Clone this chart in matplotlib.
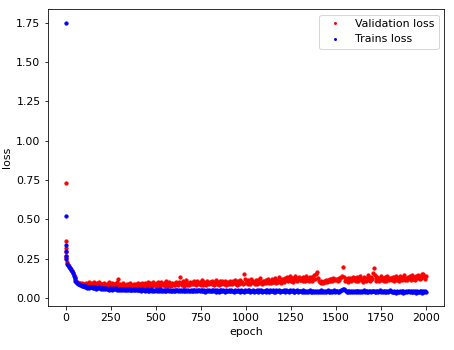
import matplotlib
matplotlib.use("Agg")
import matplotlib.pyplot as plt

plt.rcParams['font.size'] = 11

# epochs: first five individually, then every 5th epoch up to 2000
epochs = [0, 1, 2, 3, 4] + list(range(5, 2001, 5))

val_loss = [
    0.730, 0.363, 0.320, 0.290, 0.265,
    # 5 .. 100
    0.252, 0.226, 0.212, 0.203, 0.193, 0.184, 0.174, 0.162, 0.147, 0.131,
    0.119, 0.109, 0.103, 0.098, 0.095, 0.096, 0.092, 0.094, 0.090, 0.091,
    # 105 .. 200
    0.092, 0.081, 0.097, 0.086, 0.079, 0.101, 0.088, 0.083, 0.095, 0.078,
    0.091, 0.099, 0.084, 0.080, 0.094, 0.087, 0.103, 0.079, 0.090, 0.085,
    # 205 .. 300
    0.089, 0.076, 0.095, 0.082, 0.073, 0.092, 0.085, 0.099, 0.077, 0.088,
    0.080, 0.096, 0.074, 0.086, 0.091, 0.079, 0.101, 0.118, 0.084, 0.075,
    # 305 .. 400
    0.087, 0.074, 0.083, 0.094, 0.072, 0.085, 0.078, 0.092, 0.071, 0.088,
    0.080, 0.098, 0.075, 0.084, 0.073, 0.090, 0.070, 0.086, 0.077, 0.093,
    # 405 .. 500
    0.079, 0.091, 0.074, 0.087, 0.097, 0.073, 0.085, 0.093, 0.076, 0.089,
    0.104, 0.080, 0.072, 0.094, 0.086, 0.077, 0.099, 0.081, 0.090, 0.075,
    # 505 .. 600
    0.093, 0.079, 0.099, 0.084, 0.076, 0.102, 0.088, 0.081, 0.096, 0.078,
    0.108, 0.085, 0.092, 0.077, 0.100, 0.083, 0.074, 0.097, 0.089, 0.080,
    # 605 .. 700
    0.097, 0.083, 0.102, 0.088, 0.080, 0.099, 0.135, 0.093, 0.084, 0.106,
    0.090, 0.079, 0.098, 0.112, 0.085, 0.095, 0.081, 0.104, 0.089, 0.096,
    # 705 .. 800
    0.100, 0.086, 0.106, 0.091, 0.082, 0.110, 0.095, 0.087, 0.103, 0.084,
    0.097, 0.115, 0.085, 0.101, 0.092, 0.080, 0.108, 0.096, 0.088, 0.102,
    # 805 .. 900
    0.102, 0.089, 0.108, 0.093, 0.085, 0.104, 0.117, 0.090, 0.099, 0.084,
    0.107, 0.094, 0.087, 0.111, 0.098, 0.088, 0.105, 0.083, 0.101, 0.092,
    # 905 .. 1000
    0.104, 0.090, 0.111, 0.095, 0.087, 0.106, 0.097, 0.116, 0.091, 0.085,
    0.109, 0.099, 0.088, 0.113, 0.094, 0.103, 0.086, 0.155, 0.121, 0.097,
    # 1005 .. 1100
    0.106, 0.092, 0.112, 0.098, 0.089, 0.118, 0.101, 0.109, 0.094, 0.087,
    0.115, 0.103, 0.091, 0.113, 0.097, 0.124, 0.100, 0.090, 0.110, 0.096,
    # 1105 .. 1200
    0.108, 0.095, 0.117, 0.102, 0.123, 0.097, 0.111, 0.093, 0.120, 0.104,
    0.099, 0.127, 0.106, 0.094, 0.116, 0.101, 0.131, 0.109, 0.096, 0.118,
    # 1205 .. 1300
    0.110, 0.122, 0.102, 0.127, 0.113, 0.133, 0.105, 0.119, 0.138, 0.108,
    0.124, 0.101, 0.130, 0.115, 0.142, 0.118, 0.106, 0.128, 0.136, 0.114,
    # 1305 .. 1400
    0.117, 0.128, 0.108, 0.134, 0.120, 0.110, 0.140, 0.116, 0.129, 0.106,
    0.136, 0.121, 0.111, 0.131, 0.118, 0.145, 0.123, 0.150, 0.168, 0.127,
    # 1405 .. 1500
    0.110, 0.099, 0.106, 0.096, 0.104, 0.098, 0.109, 0.101, 0.112, 0.104,
    0.115, 0.106, 0.119, 0.109, 0.123, 0.111, 0.126, 0.113, 0.121, 0.116,
    # 1505 .. 1600
    0.120, 0.107, 0.128, 0.113, 0.124, 0.133, 0.142, 0.195, 0.131, 0.108,
    0.123, 0.112, 0.130, 0.104, 0.118, 0.127, 0.109, 0.122, 0.136, 0.115,
    # 1605 .. 1700
    0.125, 0.109, 0.132, 0.116, 0.106, 0.128, 0.139, 0.113, 0.121, 0.104,
    0.134, 0.118, 0.110, 0.130, 0.115, 0.143, 0.120, 0.108, 0.136, 0.123,
    # 1705 .. 1800
    0.160, 0.192, 0.148, 0.126, 0.110, 0.133, 0.119, 0.106, 0.129, 0.138,
    0.113, 0.124, 0.109, 0.131, 0.117, 0.107, 0.137, 0.121, 0.112, 0.128,
    # 1805 .. 1900
    0.129, 0.113, 0.135, 0.120, 0.110, 0.132, 0.141, 0.116, 0.127, 0.108,
    0.138, 0.122, 0.112, 0.134, 0.119, 0.147, 0.117, 0.130, 0.114, 0.136,
    # 1905 .. 2000
    0.126, 0.138, 0.117, 0.133, 0.143, 0.121, 0.136, 0.115, 0.140, 0.125,
    0.146, 0.130, 0.119, 0.141, 0.128, 0.150, 0.152, 0.134, 0.122, 0.139,
]

train_loss = [
    1.750, 0.520, 0.338, 0.300, 0.270,
    # 5 .. 100
    0.245, 0.218, 0.207, 0.196, 0.188, 0.179, 0.170, 0.157, 0.140, 0.124,
    0.111, 0.101, 0.095, 0.089, 0.086, 0.084, 0.081, 0.079, 0.078, 0.075,
    # 105 .. 200
    0.076, 0.069, 0.074, 0.066, 0.072, 0.064, 0.070, 0.067, 0.071, 0.062,
    0.068, 0.063, 0.069, 0.060, 0.066, 0.061, 0.067, 0.064, 0.059, 0.065,
    # 205 .. 300
    0.063, 0.056, 0.061, 0.058, 0.064, 0.055, 0.060, 0.054, 0.062, 0.057,
    0.059, 0.053, 0.061, 0.055, 0.058, 0.062, 0.053, 0.059, 0.054, 0.060,
    # 305 .. 400
    0.058, 0.052, 0.057, 0.051, 0.059, 0.053, 0.050, 0.057, 0.052, 0.056,
    0.049, 0.058, 0.051, 0.054, 0.057, 0.050, 0.048, 0.056, 0.051, 0.054,
    # 405 .. 500
    0.055, 0.048, 0.053, 0.047, 0.056, 0.049, 0.054, 0.046, 0.052, 0.056,
    0.047, 0.053, 0.046, 0.050, 0.055, 0.047, 0.052, 0.045, 0.054, 0.049,
    # 505 .. 600
    0.053, 0.046, 0.051, 0.045, 0.055, 0.047, 0.050, 0.044, 0.053, 0.046,
    0.051, 0.044, 0.048, 0.054, 0.045, 0.051, 0.047, 0.043, 0.052, 0.046,
    # 605 .. 700
    0.051, 0.044, 0.049, 0.054, 0.045, 0.049, 0.043, 0.052, 0.045, 0.050,
    0.043, 0.049, 0.046, 0.053, 0.043, 0.050, 0.045, 0.042, 0.051, 0.046,
    # 705 .. 800
    0.050, 0.044, 0.048, 0.042, 0.051, 0.045, 0.048, 0.053, 0.043, 0.049,
    0.042, 0.051, 0.044, 0.048, 0.041, 0.047, 0.052, 0.044, 0.049, 0.042,
    # 805 .. 900
    0.045, 0.051, 0.042, 0.048, 0.044, 0.051, 0.041, 0.048, 0.045, 0.040,
    0.049, 0.044, 0.052, 0.042, 0.048, 0.044, 0.040, 0.049, 0.043, 0.046,
    # 905 .. 1000
    0.049, 0.042, 0.046, 0.052, 0.042, 0.047, 0.040, 0.050, 0.043, 0.046,
    0.053, 0.042, 0.047, 0.040, 0.050, 0.043, 0.047, 0.041, 0.049, 0.044,
    # 1005 .. 1100
    0.046, 0.051, 0.042, 0.049, 0.040, 0.046, 0.043, 0.050, 0.040, 0.047,
    0.043, 0.050, 0.044, 0.040, 0.048, 0.043, 0.051, 0.040, 0.047, 0.043,
    # 1105 .. 1200
    0.045, 0.050, 0.041, 0.048, 0.044, 0.039, 0.049, 0.042, 0.046, 0.051,
    0.041, 0.045, 0.039, 0.049, 0.042, 0.046, 0.050, 0.039, 0.046, 0.042,
    # 1205 .. 1300
    0.042, 0.049, 0.045, 0.039, 0.050, 0.042, 0.046, 0.039, 0.049, 0.042,
    0.046, 0.052, 0.041, 0.039, 0.047, 0.042, 0.049, 0.040, 0.046, 0.042,
    # 1305 .. 1400
    0.046, 0.040, 0.043, 0.049, 0.039, 0.044, 0.038, 0.047, 0.040, 0.044,
    0.050, 0.040, 0.045, 0.038, 0.047, 0.041, 0.045, 0.038, 0.044, 0.041,
    # 1405 .. 1500
    0.045, 0.039, 0.042, 0.048, 0.038, 0.043, 0.037, 0.046, 0.040, 0.043,
    0.049, 0.039, 0.044, 0.037, 0.046, 0.040, 0.043, 0.048, 0.039, 0.043,
    # 1505 .. 1600
    0.044, 0.038, 0.046, 0.040, 0.043, 0.049, 0.054, 0.060, 0.055, 0.050,
    0.045, 0.039, 0.043, 0.037, 0.046, 0.040, 0.044, 0.037, 0.046, 0.040,
    # 1605 .. 1700
    0.044, 0.038, 0.042, 0.047, 0.037, 0.042, 0.036, 0.045, 0.039, 0.042,
    0.048, 0.038, 0.043, 0.036, 0.045, 0.039, 0.042, 0.047, 0.037, 0.043,
    # 1705 .. 1800
    0.042, 0.047, 0.038, 0.043, 0.036, 0.045, 0.039, 0.042, 0.048, 0.037,
    0.043, 0.036, 0.046, 0.039, 0.042, 0.036, 0.046, 0.039, 0.043, 0.048,
    # 1805 .. 1900
    0.043, 0.037, 0.041, 0.046, 0.036, 0.041, 0.035, 0.045, 0.038, 0.041,
    0.047, 0.037, 0.042, 0.035, 0.045, 0.038, 0.041, 0.046, 0.036, 0.042,
    # 1905 .. 2000
    0.042, 0.036, 0.044, 0.038, 0.041, 0.047, 0.037, 0.042, 0.035, 0.045,
    0.038, 0.041, 0.047, 0.036, 0.042, 0.035, 0.045, 0.038, 0.042, 0.039,
]

fig = plt.figure(figsize=(454 / 72, 350 / 72), dpi=72)
ax = fig.add_axes([47.5 / 454, 1 - 306 / 350, (444 - 47.5) / 454, (306 - 9) / 350])

ax.plot(epochs, val_loss, 'r.', ms=6.5, label='Validation loss')
ax.plot(epochs, train_loss, 'b.', ms=6.5, label='Trains loss')

ax.set_xlabel('epoch')
ax.set_ylabel('loss')
ax.legend(loc='upper right', markerscale=0.6)

fig.savefig('out.png', dpi=72)
